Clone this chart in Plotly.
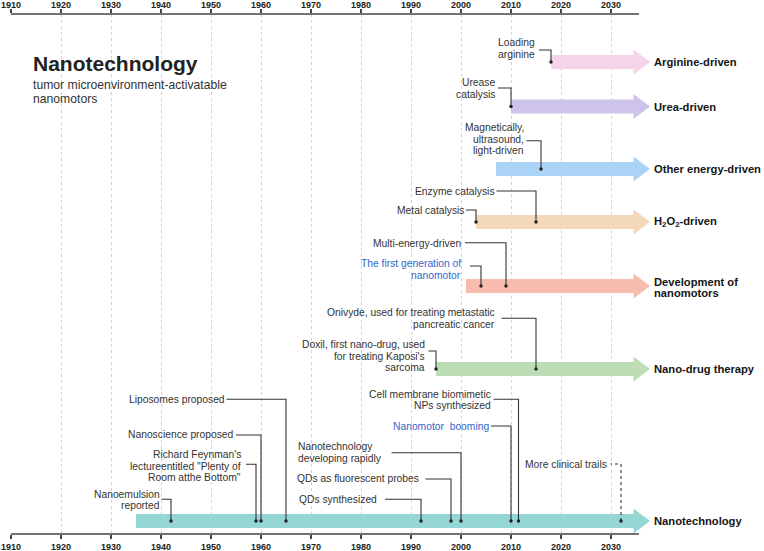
import plotly.graph_objects as go

# ---------------- data ----------------
tick_years = list(range(1910, 2031, 10))

row_names = ["Arginine-driven", "Urea-driven", "Other energy-driven",
             "H<sub>2</sub>O<sub>2</sub>-driven", "Development of<br>nanomotors",
             "Nano-drug therapy", "Nanotechnology"]
row_start = [2018, 2010, 2007, 2003, 2001, 1995, 1935]
row_colors = ["#F5D3E8", "#CEC4EA", "#ABD3F6", "#F4D8BA", "#F6BDAF", "#BCDDB6", "#93D6D3"]

event_text = [
    "Loading<br>arginine",
    "Urease<br>catalysis",
    "Magnetically,<br>ultrasound,<br>light-driven",
    "Enzyme catalysis",
    "Metal catalysis",
    "Multi-energy-driven",
    "The first generation of<br>nanomotor",
    "Onivyde, used for treating metastatic<br>pancreatic cancer",
    "Doxil, first nano-drug, used<br>for treating Kaposi's<br>sarcoma",
    "Nanoemulsion<br>reported",
    "Richard Feynman's<br>lectureentitled \"Plenty of<br>Room atthe Bottom\"",
    "Nanoscience proposed",
    "Liposomes proposed",
    "QDs synthesized",
    "QDs as fluorescent probes",
    "Nanotechnology<br>developing rapidly",
    "Nanomotor  booming",
    "Cell membrane biomimetic<br>NPs synthesized",
    "More clinical trails",
]
event_year = [2018, 2010, 2016, 2015, 2003, 2009, 2004, 2015, 1995,
              1942, 1959, 1960, 1965, 1992, 1998, 2000, 2010, 2011.5, 2032]
event_row = [0, 1, 2, 3, 3, 4, 4, 5, 5, 6, 6, 6, 6, 6, 6, 6, 6, 6, 6]
event_blue = [False, False, False, False, False, False, True, False, False,
              False, False, False, False, False, False, False, True, False, False]
event_dotted = [False] * 18 + [True]

# ---------------- layout helpers (positions / styles) ----------------
row_pos = [48, 92.5, 155, 208, 272, 355, 507]          # vertical track positions
label_x = [2014.8, 2006.8, 2012.6, 2006.7, 2000.8, 2000.0, 2000.0, 2006.8, 1992.7,
           1939.7, 1955.9, 1954.5, 1952.7, 1983.1, 1991.5, 1967.3, 2005.6, 2005.9, 2029.1]
label_align = ["right"] * 15 + ["left"] + ["right"] * 3
label_y = [34.5, 74.5, 125, 177, 196, 229, 255.5, 304.8, 342,
           486, 452, 420.5, 385.5, 485.5, 464.7, 438.5, 412, 386, 450]
elbow_x = [2015.6, 2007.4, 2013.1, 2007.1, 2001.0, 2000.8, 2001.8, 2008.1, 1993.5,
           1940.1, 1957.0, 1955.0, 1953.1, 1984.8, 1992.9, 1986.1, 2006.0, 2006.5, 2029.9]
elbow_y = [36, 74, 126.7, 177, 196, 228.7, 252, 304.3, 337,
           485.3, 450.3, 421, 385.3, 485.3, 465, 438.7, 412, 385.3, 450]

BODY_END, TIP = 2034.5, 2037.8
BODY_H, HEAD_H = 7, 12.5
LINE_SP = 11.7
FONT = "Liberation Sans, Arial, Helvetica, sans-serif"
TXT = "#333333"
BLUE = "#3366CC"

fig = go.Figure()

# arrows
for name, start, col, y in zip(row_names, row_start, row_colors, row_pos):
    xs = [start, BODY_END, BODY_END, TIP, BODY_END, BODY_END, start, start]
    ys = [y - BODY_H, y - BODY_H, y - HEAD_H, y, y + HEAD_H, y + BODY_H, y + BODY_H, y - BODY_H]
    fig.add_trace(go.Scatter(x=xs, y=ys, mode="lines", fill="toself", fillcolor=col,
                             line=dict(width=0, color=col), hoverinfo="skip", showlegend=False))

# connectors and dots
for i, yr in enumerate(event_year):
    ry = row_pos[event_row[i]]
    fig.add_trace(go.Scatter(x=[yr, yr, elbow_x[i]], y=[ry, elbow_y[i], elbow_y[i]],
                             mode="lines",
                             line=dict(color="#333333", width=1.1,
                                       dash="dot" if event_dotted[i] else "solid"),
                             hoverinfo="skip", showlegend=False))
dot_x = event_year
dot_y = [row_pos[r] for r in event_row]
fig.add_trace(go.Scatter(x=dot_x, y=dot_y, mode="markers",
                         marker=dict(size=3.5, color="#222222"),
                         hoverinfo="skip", showlegend=False))

# invisible trace for top axis
fig.add_trace(go.Scatter(x=[1910, 2030], y=[0, 0], xaxis="x2", mode="markers",
                         marker=dict(opacity=0), hoverinfo="skip", showlegend=False))

annotations = []


def add_multiline(text, x, yc, anchor, size, color, bold=False):
    lines = text.split("<br>")
    n = len(lines)
    for k, ln in enumerate(lines):
        yy = yc + (k - (n - 1) / 2) * LINE_SP
        annotations.append(dict(x=x, y=yy, xref="x", yref="y", text=ln, showarrow=False,
                                xanchor=anchor, yanchor="middle", align=anchor,
                                borderpad=0, borderwidth=0,
                                font=dict(family=FONT, size=size, color=color,
                                          weight="bold" if bold else "normal")))


for i, t in enumerate(event_text):
    add_multiline(t, label_x[i], label_y[i], label_align[i], 10.3,
                  BLUE if event_blue[i] else TXT)

for name, y in zip(row_names, row_pos):
    yc = y + 1.5 if "<br>nano" in name else y
    add_multiline(name, 2038.6, yc, "left", 11.2, "#151515", bold=True)

# title block
annotations.append(dict(x=1914.3, y=49, xref="x", yref="y", text="Nanotechnology",
                        showarrow=False, xanchor="left", yanchor="middle",
                        borderpad=0, borderwidth=0,
                        font=dict(family=FONT, size=21, color="#222222", weight="bold")))
for k, ln in enumerate(["tumor microenvironment-activatable", "nanomotors"]):
    annotations.append(dict(x=1914.3, y=71 + k * 14, xref="x", yref="y", text=ln,
                            showarrow=False, xanchor="left", yanchor="middle",
                            borderpad=0, borderwidth=0,
                            font=dict(family=FONT, size=12.2, color="#333333")))

axis_common = dict(range=[1910, 2040], tickvals=tick_years, ticks="outside", ticklen=4,
                   tickwidth=1.2, tickcolor="#444444", showline=False, zeroline=False,
                   automargin=False,
                   tickfont=dict(family=FONT, size=9, color="#222222", weight="bold"))

fig.update_layout(
    width=764, height=551,
    margin=dict(l=11, r=103, t=14, b=17, autoexpand=False),
    paper_bgcolor="white", plot_bgcolor="white",
    xaxis=dict(**axis_common, showgrid=True, gridcolor="#d2d2d2", gridwidth=1, griddash="dot"),
    xaxis2=dict(**axis_common, overlaying="x", side="top", matches="x", showgrid=False,
                ticklabelstandoff=-3),
    yaxis=dict(range=[520, 0], visible=False, showgrid=False, zeroline=False, automargin=False),
    annotations=annotations,
    shapes=[
        dict(type="line", xref="x", yref="paper", x0=1910, x1=2035.6, y0=0, y1=0,
             line=dict(color="#444444", width=1.5)),
        dict(type="line", xref="x", yref="paper", x0=1910, x1=2035.6, y0=1, y1=1,
             line=dict(color="#444444", width=1.5)),
    ],
    showlegend=False,
)

fig.write_html("out.html", config={"displayModeBar": False, "staticPlot": True})

# remove the browser's default page margin so the chart fills the window
with open("out.html", "r", encoding="utf-8") as f:
    html = f.read()
html = html.replace("<head>", "<head><style>html,body{margin:0;padding:0;overflow:hidden;}</style>", 1)
with open("out.html", "w", encoding="utf-8") as f:
    f.write(html)
